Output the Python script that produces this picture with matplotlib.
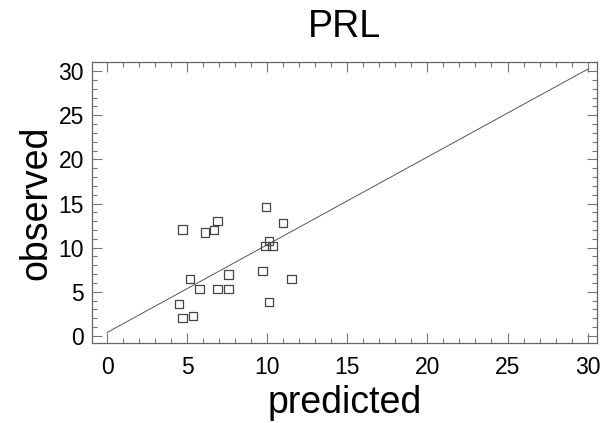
import numpy as np
import matplotlib
matplotlib.use('Agg')
from matplotlib import pyplot as plt
from matplotlib.ticker import MultipleLocator

predicted = [9.92, 6.89, 11.0, 4.71, 6.11, 6.69, 10.1, 9.89, 10.33, 5.17,
             7.58, 9.71, 11.52, 5.77, 6.89, 7.58, 4.5, 10.1, 4.71, 5.38]
observed = [14.57, 12.99, 12.76, 12.04, 11.70, 11.97, 10.79, 10.22, 10.22, 6.43,
            6.95, 7.33, 6.43, 5.32, 5.32, 5.32, 3.6, 3.83, 2.07, 2.29]
line_x = [0, 30]
line_y = [0.4, 30.2]

plt.rcParams['font.family'] = ['Liberation Sans', 'DejaVu Sans']

fig = plt.figure(figsize=(6.02, 4.23), dpi=100)
ax = fig.add_axes([0.153, 0.189, 0.839, 0.664])

ax.plot(line_x, line_y, color='#555555', linewidth=0.7)
ax.scatter(predicted, observed, marker='s', s=36, facecolors='none',
           edgecolors='#444444', linewidths=0.9, zorder=3)

ax.set_xlim(-0.94, 30.6)
ax.set_ylim(-0.8, 31.0)
ax.xaxis.set_major_locator(MultipleLocator(5))
ax.xaxis.set_minor_locator(MultipleLocator(1))
ax.yaxis.set_major_locator(MultipleLocator(5))
ax.yaxis.set_minor_locator(MultipleLocator(1))
ax.tick_params(which='both', direction='in', top=True, right=True,
               color='#777777', labelsize=16.5)
ax.tick_params(which='major', length=7, width=0.8)
ax.tick_params(which='minor', length=3.5, width=0.8)
ax.tick_params(axis='x', pad=9)
ax.tick_params(axis='y', pad=6)
for s in ax.spines.values():
    s.set_color('#666666')
    s.set_linewidth(0.9)

ax.set_xlabel('predicted', fontsize=27, labelpad=5)
ax.set_ylabel('observed', fontsize=27, labelpad=3)
ax.set_title('PRL', fontsize=27, pad=18)

fig.savefig('out.png', dpi=100)
